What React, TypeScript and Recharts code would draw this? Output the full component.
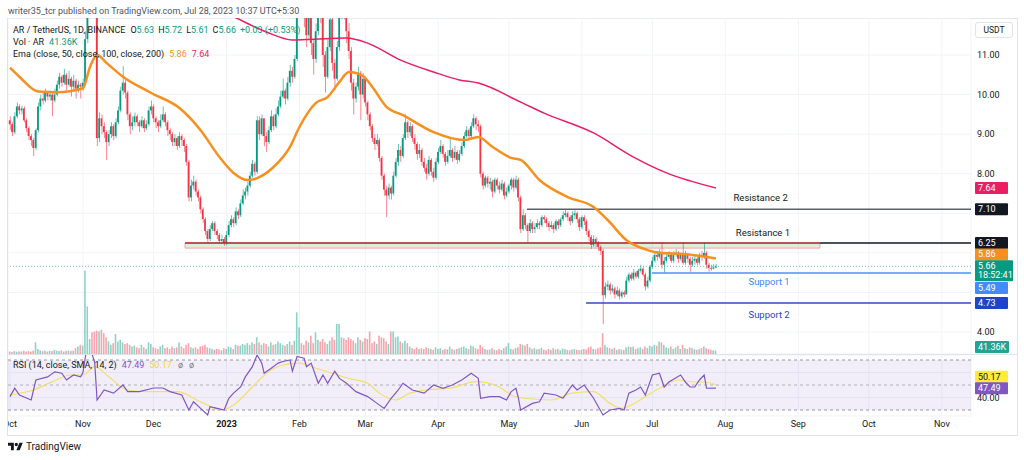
import React from 'react';
import {
  ComposedChart, Bar, Line, XAxis, YAxis, CartesianGrid,
  ReferenceLine, ReferenceArea, ReferenceDot,
} from 'recharts';

const FONT = 'Roboto, "Liberation Sans", Arial, sans-serif';
const UP = '#089981';
const DOWN = '#f23645';
const TEXT = '#131722';

// ---- daily candles, day 0 = 1 Oct 2022, day 300 = 28 Jul 2023 ----
const firstOpen = 9.35;
const closes = [
  9.25, 9.05, 9.45, 9.7, 9.6, 9.65, 9.35, 9.15, 8.95, 8.85,
  8.65, 9.1, 9.7, 9.9, 9.85, 10.05, 9.95, 10.0, 9.85, 10.0,
  10.25, 10.45, 10.3, 10.5, 10.25, 10.4, 10.2, 10.35, 10.15, 10.25,
  10.2, 10.3, 11.4, 13.5, 14.5, 13.8, 12.3, 8.9, 9.4, 9.2,
  9.05, 8.8, 9.0, 9.2, 8.95, 9.3, 9.6, 10.1, 10.3, 10.05,
  9.5, 9.2, 9.3, 9.45, 9.3, 9.2, 9.35, 9.15, 9.25, 9.6,
  9.7, 9.4, 9.3, 9.2, 9.35, 9.5, 9.3, 9.1, 9.0, 8.8,
  8.9, 8.7, 8.95, 8.85, 8.7, 8.3, 7.4, 7.7, 7.8, 7.55,
  7.4, 7.1, 6.85, 6.55, 6.35, 6.6, 6.75, 6.55, 6.45, 6.3,
  6.35, 6.25, 6.45, 6.7, 6.85, 6.75, 7.05, 6.95, 7.25, 7.45,
  7.55, 7.7, 7.95, 8.25, 8.05, 9.35, 9.0, 9.4, 8.95, 8.8,
  9.1, 9.45, 9.2, 9.5, 9.7, 9.95, 10.1, 9.9, 10.3, 10.6,
  10.45, 10.9, 12.3, 13.0, 12.6, 12.2, 11.5, 12.4, 11.3, 10.9,
  11.6, 12.5, 12.1, 11.0, 10.45, 11.2, 11.9, 10.8, 10.4, 11.2,
  12.0, 12.6, 12.2, 11.6, 11.1, 10.3, 9.9, 10.2, 10.55, 10.0,
  10.4, 9.8, 9.5, 9.2, 8.9, 8.75, 8.85, 8.4, 7.95, 7.6,
  7.45, 7.65, 7.5, 7.95, 8.3, 8.6, 8.45, 8.9, 9.3, 9.05,
  9.2, 8.9, 8.75, 8.5, 8.6, 8.3, 8.15, 8.0, 8.35, 8.05,
  7.9, 8.3, 8.55, 8.7, 8.5, 8.3, 8.45, 8.6, 8.4, 8.55,
  8.35, 8.5, 8.7, 8.95, 9.1, 8.95, 9.2, 9.4, 9.25, 9.2,
  8.0, 7.7, 7.9, 7.75, 7.8, 7.55, 7.85, 7.7, 7.6, 7.75,
  7.45, 7.55, 7.7, 7.85, 7.65, 7.85, 7.4, 6.6, 6.95, 6.7,
  6.55, 6.75, 6.6, 6.65, 6.75, 6.7, 6.9, 6.85, 6.75, 6.65,
  6.7, 6.6, 6.8, 6.7, 6.85, 6.95, 7.0, 6.9, 6.8, 6.95,
  7.0, 6.85, 6.65, 6.9, 6.8, 6.55, 6.4, 6.2, 6.35, 6.25,
  6.15, 6.05, 4.93, 5.15, 5.2, 5.05, 5.1, 4.95, 5.05, 4.9,
  5.0, 4.95, 5.3, 5.45, 5.35, 5.5, 5.4, 5.55, 5.6, 5.45,
  5.15, 5.3, 5.65, 5.8, 5.95, 5.9, 6.0, 5.7, 5.8, 5.9,
  5.95, 5.8, 5.95, 6.0, 5.85, 5.95, 5.75, 5.95, 5.85, 5.7,
  5.8, 5.85, 5.75, 5.95, 5.9, 6.0, 5.7, 5.62, 5.6, 5.63,
  5.66,
];
const highs = [
  9.45, 9.3, 9.55, 9.8, 9.75, 9.72, 9.7, 9.4, 9.2, 9.0,
  8.9, 9.15, 9.8, 10.0, 10.05, 10.15, 10.1, 10.1, 10.05, 10.15,
  10.35, 10.55, 10.5, 10.65, 10.55, 10.6, 10.45, 10.5, 10.4, 10.35,
  10.3, 10.4, 11.6, 14.2, 15.2, 14.9, 13.9, 12.4, 9.55, 9.5,
  9.3, 9.1, 9.1, 9.3, 9.25, 9.4, 9.7, 10.2, 10.72, 10.4,
  10.1, 9.55, 9.45, 9.55, 9.5, 9.35, 9.45, 9.4, 9.35, 9.7,
  9.85, 9.75, 9.45, 9.35, 9.5, 9.7, 9.55, 9.35, 9.15, 9.05,
  9.0, 8.95, 9.05, 9.0, 8.9, 8.75, 8.35, 7.85, 7.95, 7.85,
  7.6, 7.45, 7.15, 6.9, 6.6, 6.7, 6.8, 6.8, 6.6, 6.5,
  6.45, 6.4, 6.55, 6.8, 6.95, 6.9, 7.15, 7.1, 7.35, 7.6,
  7.65, 7.8, 8.05, 8.35, 8.3, 9.45, 9.45, 9.5, 9.4, 9.05,
  9.2, 9.6, 9.5, 9.65, 9.85, 10.1, 10.4, 10.15, 10.45, 10.75,
  10.7, 11.0, 12.6, 13.5, 13.3, 12.8, 12.3, 12.7, 12.5, 11.4,
  11.8, 12.8, 12.7, 12.2, 11.1, 11.4, 12.2, 12.0, 10.9, 11.35,
  12.3, 12.9, 12.8, 12.3, 11.8, 11.2, 10.4, 10.3, 10.7, 10.6,
  10.55, 10.45, 9.85, 9.55, 9.25, 9.0, 9.0, 8.9, 8.45, 8.0,
  7.7, 7.75, 7.7, 8.05, 8.4, 8.75, 8.7, 9.0, 9.5, 9.35,
  9.3, 9.25, 9.0, 8.8, 8.75, 8.65, 8.4, 8.25, 8.45, 8.4,
  8.15, 8.4, 8.65, 8.85, 8.75, 8.55, 8.6, 8.9, 8.65, 8.7,
  8.6, 8.6, 8.8, 9.05, 9.2, 9.15, 9.3, 9.5, 9.45, 9.35,
  9.25, 8.05, 7.95, 7.95, 7.9, 7.85, 7.9, 7.9, 7.8, 7.85,
  7.8, 7.65, 7.75, 7.9, 7.9, 7.95, 7.9, 7.45, 7.1, 7.0,
  6.75, 6.85, 6.8, 6.75, 6.85, 6.8, 6.95, 6.95, 6.9, 6.8,
  6.8, 6.75, 6.85, 6.85, 6.9, 7.05, 7.1, 7.05, 6.95, 7.05,
  7.08, 7.05, 6.9, 6.95, 6.95, 6.85, 6.6, 6.45, 6.45, 6.4,
  6.3, 6.2, 6.1, 5.25, 5.3, 5.25, 5.2, 5.15, 5.15, 5.1,
  5.05, 5.05, 5.4, 5.5, 5.5, 5.6, 5.55, 5.6, 5.7, 5.65,
  5.5, 5.4, 5.7, 5.9, 6.0, 6.05, 6.1, 6.27, 5.9, 6.0,
  6.05, 6.0, 6.05, 6.1, 6.05, 6.0, 6.27, 6.05, 6.0, 5.9,
  5.9, 5.95, 5.9, 6.0, 6.05, 6.27, 6.05, 5.75, 5.7, 5.72,
  5.72,
];
const lows = [
  9.1, 8.95, 9.0, 9.4, 9.5, 9.5, 9.3, 9.05, 8.85, 8.7,
  8.45, 8.6, 9.05, 9.6, 9.75, 9.8, 9.85, 9.85, 9.45, 9.8,
  9.95, 10.15, 10.2, 10.25, 10.1, 10.2, 9.95, 10.1, 9.9, 10.05,
  9.9, 10.1, 10.25, 11.3, 13.2, 13.4, 12.0, 8.7, 8.8, 9.0,
  8.9, 8.35, 8.7, 8.9, 8.85, 8.9, 9.25, 9.55, 10.0, 9.9,
  9.35, 9.0, 9.1, 9.2, 9.2, 9.05, 9.15, 9.05, 9.1, 9.2,
  9.5, 9.3, 9.15, 9.05, 9.15, 9.3, 9.2, 8.95, 8.85, 8.7,
  8.7, 8.6, 8.65, 8.7, 8.55, 8.2, 7.3, 7.3, 7.6, 7.45,
  7.3, 7.0, 6.75, 6.45, 6.25, 6.3, 6.55, 6.45, 6.35, 6.25,
  6.25, 6.18, 6.2, 6.4, 6.65, 6.65, 6.7, 6.85, 6.9, 7.2,
  7.35, 7.45, 7.65, 7.9, 7.95, 8.0, 8.85, 8.95, 8.7, 8.55,
  8.75, 9.05, 9.1, 9.15, 9.45, 9.65, 9.9, 9.75, 9.85, 10.2,
  10.3, 10.4, 10.85, 12.1, 12.2, 11.7, 11.2, 11.4, 11.0, 10.5,
  10.8, 11.5, 11.8, 10.7, 10.05, 10.4, 11.1, 10.6, 10.1, 10.35,
  11.1, 11.9, 11.9, 11.3, 10.9, 10.1, 9.5, 9.8, 10.1, 9.35,
  9.9, 9.7, 9.35, 9.1, 8.8, 8.6, 8.7, 8.3, 7.85, 7.45,
  6.9, 7.35, 7.35, 7.45, 7.9, 8.2, 8.3, 8.4, 8.85, 8.9,
  8.95, 8.8, 8.6, 8.35, 8.4, 8.2, 8.05, 7.85, 7.95, 7.95,
  7.8, 7.85, 8.25, 8.5, 8.4, 8.2, 8.25, 8.4, 8.3, 8.35,
  8.25, 8.3, 8.45, 8.65, 8.9, 8.85, 8.9, 9.15, 9.1, 9.05,
  7.9, 7.6, 7.65, 7.65, 7.6, 7.4, 7.5, 7.6, 7.5, 7.55,
  7.35, 7.4, 7.5, 7.6, 7.55, 7.6, 7.3, 6.5, 6.55, 6.6,
  6.25, 6.5, 6.5, 6.5, 6.6, 6.6, 6.65, 6.75, 6.65, 6.55,
  6.6, 6.5, 6.55, 6.6, 6.65, 6.8, 6.9, 6.8, 6.7, 6.75,
  6.85, 6.75, 6.55, 6.6, 6.7, 6.45, 6.3, 6.1, 6.15, 6.15,
  6.05, 5.95, 4.2, 4.85, 5.05, 4.95, 5.0, 4.85, 4.9, 4.82,
  4.85, 4.88, 4.95, 5.25, 5.3, 5.3, 5.35, 5.35, 5.5, 5.4,
  5.05, 5.1, 5.25, 5.6, 5.75, 5.8, 5.85, 5.6, 5.5, 5.75,
  5.85, 5.75, 5.75, 5.9, 5.75, 5.8, 5.7, 5.7, 5.75, 5.52,
  5.65, 5.7, 5.68, 5.7, 5.8, 5.85, 5.6, 5.52, 5.55, 5.58,
  5.61,
];
// volume in thousands of AR
const volumes = [
  30, 25, 35, 28, 32, 30, 38, 30, 35, 28,
  40, 140, 60, 45, 35, 40, 30, 38, 35, 50,
  40, 35, 45, 30, 38, 42, 35, 40, 70, 90,
  110, 100, 1000, 570, 180, 260, 270, 280, 270, 290,
  250, 200, 150, 110, 130, 240, 150, 170, 140, 120,
  130, 110, 90, 100, 80, 70, 110, 80, 60, 140,
  120, 80, 70, 60, 90, 110, 70, 80, 60, 90,
  70, 80, 140, 90, 70, 110, 130, 80, 70, 80,
  60, 90, 100, 110, 80, 70, 60, 50, 60, 55,
  45, 70, 60, 90, 80, 60, 110, 100, 100, 120,
  110, 130, 110, 140, 120, 200, 140, 110, 130, 120,
  90, 140, 110, 120, 150, 130, 110, 100, 120, 150,
  110, 160, 500, 320, 130, 110, 160, 140, 220, 130,
  260, 170, 150, 180, 140, 120, 160, 200, 170, 360,
  360, 200, 190, 170, 200, 180, 160, 130, 200, 170,
  150, 190, 180, 270, 130, 150, 120, 220, 200, 190,
  150, 120, 270, 270, 200, 210, 150, 130, 160, 130,
  90, 70, 60, 80, 60, 70, 60, 80, 70, 60,
  50, 80, 60, 70, 50, 60, 55, 90, 60, 50,
  60, 70, 80, 90, 70, 60, 100, 90, 70, 60,
  110, 80, 60, 50, 55, 70, 50, 45, 60, 50,
  70, 90, 130, 60, 55, 70, 80, 120, 110, 100,
  120, 80, 60, 70, 55, 60, 75, 50, 45, 60,
  50, 70, 55, 60, 45, 65, 60, 50, 45, 55,
  60, 50, 45, 50, 60, 55, 80, 90, 60, 55,
  70, 80, 250, 110, 80, 70, 60, 75, 50, 60,
  55, 50, 80, 90, 85, 90, 60, 70, 80, 60,
  90, 70, 100, 90, 110, 100, 150, 140, 110, 80,
  70, 90, 60, 80, 100, 60, 110, 70, 60, 80,
  70, 55, 50, 60, 70, 90, 70, 60, 50, 45,
  41.36,
];

// EMA values
const ema50Days = [0, 4, 12, 20, 31, 34, 37, 41, 48, 60, 72, 81, 89, 95, 101, 105, 112, 119, 123, 130, 135, 140, 144, 150, 154, 160, 167, 180, 193, 199, 205, 213, 217, 225, 237, 248, 254, 262, 271, 276, 286, 300];
const ema50Vals = [10.68, 10.45, 10.08, 10.06, 10.16, 10.7, 11.0, 10.8, 10.45, 10.04, 9.66, 9.1, 8.42, 8.02, 7.84, 7.89, 8.17, 8.68, 9.18, 9.79, 9.94, 10.32, 10.57, 10.47, 10.19, 9.69, 9.48, 9.05, 8.85, 8.93, 8.68, 8.4, 8.35, 7.84, 7.41, 7.16, 6.83, 6.32, 6.07, 6.0, 5.97, 5.86];
const ema200Days = [0, 35, 60, 80, 96, 109, 120, 129, 143, 152, 166, 180, 191, 199, 217, 227, 248, 265, 279, 300];
const ema200Vals = [13.5, 13.3, 12.9, 12.4, 11.94, 11.58, 11.38, 11.4, 11.43, 11.3, 10.87, 10.57, 10.37, 10.29, 9.81, 9.53, 9.03, 8.42, 8.02, 7.64];

// RSI (14) and its SMA
const rsiDays = [0, 2, 4, 9, 11, 16, 19, 22, 24, 27, 30, 31, 32, 33, 34, 35, 36, 37, 40, 44, 48, 50, 55, 61, 65, 68, 73, 76, 78, 81, 84, 85, 88, 91, 93, 95, 98, 100, 103, 105, 107, 108, 111, 114, 116, 119, 120, 122, 125, 126, 128, 131, 133, 135, 138, 140, 143, 147, 152, 156, 159, 162, 165, 167, 171, 176, 180, 184, 188, 192, 196, 199, 200, 204, 208, 211, 213, 215, 216, 217, 222, 225, 227, 232, 235, 239, 241, 244, 246, 248, 252, 255, 259, 261, 263, 266, 268, 270, 273, 276, 278, 280, 285, 287, 289, 291, 293, 295, 296, 300];
const rsiVals = [40.7, 47.4, 42, 38, 54, 56.5, 60.5, 59.4, 54, 58, 56.6, 60, 72, 82, 84, 74, 68, 38, 46, 43.5, 50, 44.7, 44.7, 47.6, 47.6, 44.7, 42, 30, 36.6, 31.3, 26, 32.6, 31.3, 30, 39.4, 43.5, 48.4, 56.5, 64.7, 74, 67.5, 59.4, 63.4, 67.5, 68.8, 70, 61, 72.8, 71.4, 64.7, 67.5, 51.4, 58, 51.4, 61, 55.3, 51.4, 44.7, 40.7, 35.3, 31.3, 39.4, 46, 51.4, 46, 43.5, 50, 47.4, 50, 54, 59.4, 55.3, 39.4, 40.7, 40.7, 38, 44.7, 47.4, 40, 30, 35.3, 36.6, 43.5, 42, 39.4, 50, 46, 50, 44.7, 39.4, 26, 30, 31.3, 30, 43.5, 46, 48.4, 42, 58, 59.4, 48.4, 52.4, 58, 52.4, 48.4, 48.4, 54, 58, 47.4, 47.49];
const rsiMaDays = [0, 10, 18, 26, 31, 36, 42, 50, 58, 71, 81, 90, 95, 103, 109, 116, 123, 130, 137, 144, 152, 157, 164, 170, 177, 187, 198, 208, 213, 219, 230, 239, 248, 255, 260, 264, 270, 277, 284, 291, 295, 300];
const rsiMaVals = [42, 46, 52.7, 58, 58, 64.7, 56.6, 46, 44.7, 44.7, 36.6, 30, 34, 48.4, 59.4, 66, 67.5, 63.4, 59.4, 55.3, 51.4, 43.5, 38, 43.5, 46, 47.4, 52.7, 48.4, 42, 39.4, 38, 43.5, 44.7, 35.3, 31.3, 34, 40.7, 48.4, 54, 52.4, 52.4, 50.17];

const monthDays = [0, 31, 61, 92, 123, 151, 182, 212, 243, 273, 304, 335, 365, 396];
const monthLabels = ['Oct', 'Nov', 'Dec', '2023', 'Feb', 'Mar', 'Apr', 'May', 'Jun', 'Jul', 'Aug', 'Sep', 'Oct', 'Nov'];
const priceTicks = [4, 5, 6, 7, 8, 9, 10, 11];
const priceLabelTicks = [4, 8, 9, 10, 11];
const rsiTicks = [40, 60];

const X_DOMAIN: [number, number] = [-0.85, 408.4];
const PRICE_DOMAIN: [number, number] = [3.444, 11.935];
const VOL_DOMAIN: [number, number] = [0, 4032];
const RSI_DOMAIN: [number, number] = [25.2, 74];

const rows = closes.map((c, i) => {
  const o = i === 0 ? firstOpen : closes[i - 1];
  const lo = Math.min(o, c);
  const hi = Math.max(o, c);
  return {
    day: i,
    open: o,
    close: c,
    up: c >= o,
    body: [lo, hi],
    wick: [Math.min(lows[i], lo), Math.max(highs[i], hi)],
    vol: volumes[i],
  };
});
const ema50Rows = ema50Days.map((d, i) => ({ day: d, v: ema50Vals[i] }));
const ema200Rows = ema200Days.map((d, i) => ({ day: d, v: ema200Vals[i] }));
const rsiRows = rsiDays.map((d, i) => ({ day: d, v: rsiVals[i] }));
const rsiMaRows = rsiMaDays.map((d, i) => ({ day: d, v: rsiMaVals[i] }));

const BodyShape = (p: any) => (
  <rect x={p.x} y={p.y} width={p.width} height={Math.max(p.height, 0.8)} fill={p.payload.up ? UP : DOWN} />
);
const WickShape = (p: any) => (
  <rect x={p.x} y={p.y} width={p.width} height={Math.max(p.height, 0.5)} fill={p.payload.up ? UP : DOWN} fillOpacity={0.75} />
);
const VolShape = (p: any) => (
  <rect x={p.x} y={p.y} width={p.width} height={Math.max(p.height, 0)} fill={p.payload.up ? UP : DOWN} fillOpacity={0.45} />
);

const PriceTick = (p: any) => {
  const v = p.payload.value;
  if (!priceLabelTicks.includes(v)) return <g />;
  return (
    <text x={p.x} y={p.y} dy={3} fontSize={9} fill={TEXT} fontFamily={FONT} textAnchor="start">{v.toFixed(2)}</text>
  );
};
const RsiTick = (p: any) => {
  const v = p.payload.value;
  if (v !== 40) return <g />;
  return (
    <text x={p.x} y={p.y} dy={3} fontSize={9} fill={TEXT} fontFamily={FONT} textAnchor="start">{v.toFixed(2)}</text>
  );
};
const MonthTick = (p: any) => {
  const i = monthDays.indexOf(p.payload.value);
  const label = monthLabels[i];
  return (
    <text x={p.x} y={p.y + 11} textAnchor="middle" fontSize={9} fill={TEXT} fontFamily={FONT} fontWeight={label === '2023' ? 700 : 400}>{label}</text>
  );
};

const makeTag = (lines: string[], bg: string, fg: string, dy: number, w = 33) => (p: any) => {
  const vb = p.viewBox || { x: 0, y: 0, width: 0 };
  const x = vb.x + vb.width + 4;
  const y = vb.y + dy;
  const h = lines.length === 1 ? 12 : 21;
  const top = y - 6;
  return (
    <g>
      <rect x={x} y={top} width={w} height={h} fill={bg} rx={1} />
      {lines.map((t, k) => (
        <text key={k} x={x + 3} y={top + 9 + k * 9} fontSize={9} fill={fg} fontFamily={FONT}>{t}</text>
      ))}
    </g>
  );
};

const textLabel = (value: string, fill: string) => ({ value, position: 'center' as const, fill, fontSize: 9.5, fontFamily: FONT });

export default function App() {
  return (
    <div style={{ position: 'absolute', left: 0, top: 0, width: 1024, height: 460, background: '#fff', overflow: 'hidden', fontFamily: FONT }}>
      <div style={{ position: 'absolute', left: 8, top: 5, fontSize: 9, lineHeight: '12px', color: '#50535e', whiteSpace: 'nowrap' }}>
        writer35_tcr published on TradingView.com, Jul 28, 2023 10:37 UTC+5:30
      </div>
      <div style={{ position: 'absolute', left: 7, top: 18, width: 1011, height: 418, border: '1px solid #e0e3eb', boxSizing: 'border-box' }} />

      <div style={{ position: 'absolute', left: 8, top: 18 }}>
        <ComposedChart width={1009} height={336} data={rows} margin={{ top: 0, right: 0, bottom: 0, left: 0 }}>
          <XAxis xAxisId={0} dataKey="day" type="number" domain={X_DOMAIN} ticks={monthDays} hide allowDataOverflow />
          <XAxis xAxisId="w" dataKey="day" type="number" domain={X_DOMAIN} hide allowDataOverflow />
          <XAxis xAxisId="v" dataKey="day" type="number" domain={X_DOMAIN} hide allowDataOverflow />
          <YAxis yAxisId="p" orientation="right" width={46} domain={PRICE_DOMAIN} ticks={priceTicks} allowDataOverflow axisLine={false} tickLine={false} tickSize={0} tickMargin={6} tick={PriceTick} />
          <YAxis yAxisId="vol" hide domain={VOL_DOMAIN} allowDataOverflow />
          <CartesianGrid xAxisId={0} yAxisId="p" stroke="#f0f3fa" />

          <Bar xAxisId="v" yAxisId="vol" dataKey="vol" barSize={1.6} shape={VolShape} isAnimationActive={false} />

          <ReferenceArea xAxisId={0} yAxisId="p" x1={74.4} x2={344.2} y1={6.12} y2={6.25} fill="#4caf50" fillOpacity={0.2} stroke="#f4a3a3" strokeWidth={1} />
          <ReferenceLine xAxisId={0} yAxisId="p" segment={[{ x: 74.4, y: 6.25 }, { x: 344.2, y: 6.25 }]} stroke="#a82a2a" strokeWidth={1.5} />
          <ReferenceLine xAxisId={0} yAxisId="p" segment={[{ x: 344.2, y: 6.25 }, { x: 408.4, y: 6.25 }]} stroke="#131722" strokeWidth={1.5} />
          <ReferenceLine xAxisId={0} yAxisId="p" segment={[{ x: 219.7, y: 7.1 }, { x: 408.4, y: 7.1 }]} stroke="#5d606b" strokeWidth={1.5} />
          <ReferenceLine xAxisId={0} yAxisId="p" segment={[{ x: 272.8, y: 5.49 }, { x: 408.4, y: 5.49 }]} stroke="#4f8ff7" strokeWidth={1.5} />
          <ReferenceLine xAxisId={0} yAxisId="p" segment={[{ x: 244.8, y: 4.73 }, { x: 408.4, y: 4.73 }]} stroke="#3047d1" strokeWidth={1.5} />
          <ReferenceLine xAxisId={0} yAxisId="p" y={5.66} stroke="#089981" strokeOpacity={0.6} strokeDasharray="1 2" />

          <Line xAxisId={0} yAxisId="p" data={ema200Rows} dataKey="v" type="monotone" stroke="#e91e63" strokeWidth={1.5} dot={false} isAnimationActive={false} />
          <Bar xAxisId="w" yAxisId="p" dataKey="wick" barSize={0.8} shape={WickShape} isAnimationActive={false} />
          <Bar xAxisId={0} yAxisId="p" dataKey="body" barSize={1.7} shape={BodyShape} isAnimationActive={false} />
          <Line xAxisId={0} yAxisId="p" data={ema50Rows} dataKey="v" type="monotone" stroke="#f7901e" strokeWidth={2.5} dot={false} isAnimationActive={false} />

          <ReferenceDot xAxisId={0} yAxisId="p" x={319} y={7.386} r={0} fill="none" stroke="none" label={textLabel('Resistance 2', TEXT)} />
          <ReferenceDot xAxisId={0} yAxisId="p" x={320} y={6.5} r={0} fill="none" stroke="none" label={textLabel('Resistance 1', TEXT)} />
          <ReferenceDot xAxisId={0} yAxisId="p" x={322.6} y={5.27} r={0} fill="none" stroke="none" label={textLabel('Support 1', '#3d85f5')} />
          <ReferenceDot xAxisId={0} yAxisId="p" x={322.6} y={4.447} r={0} fill="none" stroke="none" label={textLabel('Support 2', '#2a44cc')} />

          <ReferenceLine xAxisId={0} yAxisId="p" y={7.64} stroke="none" label={makeTag(['7.64'], '#e91e63', '#fff', 0)} />
          <ReferenceLine xAxisId={0} yAxisId="p" y={7.1} stroke="none" label={makeTag(['7.10'], '#131722', '#fff', 0)} />
          <ReferenceLine xAxisId={0} yAxisId="p" y={6.25} stroke="none" label={makeTag(['6.25'], '#131722', '#fff', 0)} />
          <ReferenceLine xAxisId={0} yAxisId="p" y={5.86} stroke="none" label={makeTag(['5.86'], '#f7901e', '#fff', -4)} />
          <ReferenceLine xAxisId={0} yAxisId="p" y={5.66} stroke="none" label={makeTag(['5.66', '18:52:41'], '#089981', '#fff', 0, 38)} />
          <ReferenceLine xAxisId={0} yAxisId="p" y={5.49} stroke="none" label={makeTag(['5.49'], '#448aff', '#fff', 15)} />
          <ReferenceLine xAxisId={0} yAxisId="p" y={4.73} stroke="none" label={makeTag(['4.73'], '#1e44c8', '#fff', 0)} />
          <ReferenceLine xAxisId="v" yAxisId="vol" y={41.36} stroke="none" label={makeTag(['41.36K'], '#22a394', '#fff', -3.6, 34)} />
        </ComposedChart>
      </div>

      <div style={{ position: 'absolute', left: 8, top: 354, width: 1009, height: 1, background: '#e0e3eb' }} />

      <div style={{ position: 'absolute', left: 8, top: 355 }}>
        <ComposedChart width={1009} height={80} margin={{ top: 0, right: 0, bottom: 0, left: 0 }}>
          <XAxis dataKey="day" type="number" domain={X_DOMAIN} ticks={monthDays} allowDataOverflow height={19} axisLine={false} tickLine={false} tickSize={0} tickMargin={0} tick={MonthTick} interval={0} />
          <YAxis orientation="right" width={46} domain={RSI_DOMAIN} ticks={rsiTicks} allowDataOverflow axisLine={false} tickLine={false} tickSize={0} tickMargin={6} tick={RsiTick} />
          <CartesianGrid stroke="#f0f3fa" />
          <ReferenceArea x1={X_DOMAIN[0]} x2={X_DOMAIN[1]} y1={30} y2={70} fill="#7e57c2" fillOpacity={0.1} stroke="none" />
          <ReferenceLine y={70} stroke="#9598a1" strokeDasharray="3 3" />
          <ReferenceLine y={50} stroke="#9598a1" strokeDasharray="3 3" strokeOpacity={0.7} />
          <ReferenceLine y={30} stroke="#9598a1" strokeDasharray="3 3" />
          <Line data={rsiMaRows} dataKey="v" type="monotone" stroke="#f2df6b" strokeWidth={1.2} dot={false} isAnimationActive={false} />
          <Line data={rsiRows} dataKey="v" type="linear" stroke="#7e57c2" strokeWidth={1.2} dot={false} isAnimationActive={false} />
          <ReferenceLine y={50.17} stroke="none" label={makeTag(['50.17'], '#ffeb3b', '#131722', -8)} />
          <ReferenceLine y={47.49} stroke="none" label={makeTag(['47.49'], '#7e57c2', '#fff', 0)} />
        </ComposedChart>
      </div>

      {/* legends */}
      <div style={{ position: 'absolute', left: 13, top: 24, fontSize: 9, lineHeight: '12px', color: TEXT, whiteSpace: 'nowrap' }}>
        AR / TetherUS, 1D, BINANCE
        <span style={{ marginLeft: 5 }}>O</span><span style={{ color: UP }}>5.63</span>
        <span style={{ marginLeft: 4 }}>H</span><span style={{ color: UP }}>5.72</span>
        <span style={{ marginLeft: 4 }}>L</span><span style={{ color: UP }}>5.61</span>
        <span style={{ marginLeft: 4 }}>C</span><span style={{ color: UP }}>5.66</span>
        <span style={{ marginLeft: 4, color: UP }}>+0.03 (+0.53%)</span>
      </div>
      <div style={{ position: 'absolute', left: 13, top: 36, fontSize: 9, lineHeight: '12px', color: TEXT, whiteSpace: 'nowrap' }}>
        Vol · AR<span style={{ marginLeft: 5, color: UP }}>41.36K</span>
      </div>
      <div style={{ position: 'absolute', left: 13, top: 48, fontSize: 9, lineHeight: '12px', color: TEXT, whiteSpace: 'nowrap' }}>
        Ema (close, 50, close, 100, close, 200)
        <span style={{ marginLeft: 5, color: '#f7901e' }}>5.86</span>
        <span style={{ marginLeft: 5, color: '#e91e63' }}>7.64</span>
      </div>
      <div style={{ position: 'absolute', left: 13, top: 359, fontSize: 9, lineHeight: '12px', color: TEXT, whiteSpace: 'nowrap' }}>
        RSI (14, close, SMA, 14, 2)
        <span style={{ marginLeft: 5, color: '#7e57c2' }}>47.49</span>
        <span style={{ marginLeft: 5, color: '#e8d640' }}>50.17</span>
        <span style={{ marginLeft: 6, color: '#787b86' }}>ø</span>
        <span style={{ marginLeft: 6, color: '#787b86' }}>ø</span>
      </div>

      <div style={{ position: 'absolute', left: 975, top: 22, width: 38, height: 16, border: '1px solid #e0e3eb', borderRadius: 3, boxSizing: 'border-box', fontSize: 8.5, lineHeight: '14px', textAlign: 'center', color: TEXT, background: '#fff' }}>USDT</div>

      <div style={{ position: 'absolute', left: 8, top: 441, display: 'flex', alignItems: 'center', whiteSpace: 'nowrap' }}>
        <svg width={15} height={10} viewBox="0 0 36 24">
          <path d="M14 20H7V9H0V2h14v18z" fill={TEXT} />
          <circle cx={20} cy={6} r={4} fill={TEXT} />
          <path d="M28 20h-8l7.5-18h8L28 20z" fill={TEXT} />
        </svg>
        <span style={{ marginLeft: 3, fontSize: 10, color: TEXT }}>TradingView</span>
      </div>
    </div>
  );
}
